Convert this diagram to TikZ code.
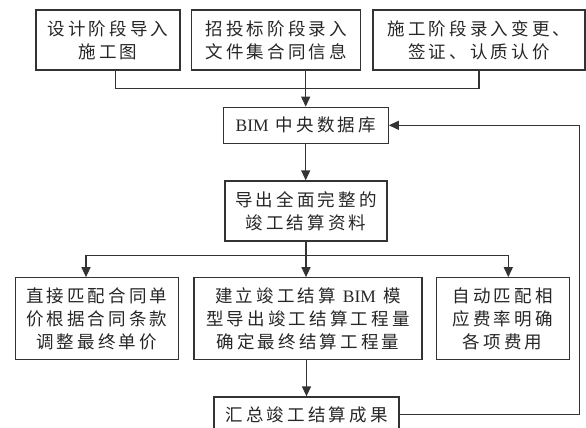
\documentclass[tikz,border=0pt]{standalone}
\usepackage{fontspec}
\setmainfont{Liberation Serif}
\newfontfamily\cjk[LetterSpace=18]{Noto Sans CJK SC}
\usetikzlibrary{arrows.meta,calc}
\begin{document}
\begin{tikzpicture}[x=1pt,y=-1pt,
  box/.style={draw=black!80,line width=1.3pt,inner sep=0pt,align=center,text=black!85,
    font=\cjk\fontsize{17.5}{23}\selectfont},
  conn/.style={draw=black!80,line width=1.3pt},
  arr/.style={conn,-{Triangle[length=10pt,width=9pt]}}]
\useasboundingbox (0,0) rectangle (586,428);
% top row
\node[box,minimum width=144pt,minimum height=60pt] (b1) at (108,40) {设计阶段导入\\施工图};
\node[box,minimum width=169pt,minimum height=60pt] (b2) at (276.3,40) {招投标阶段录入\\文件集合同信息};
\node[box,minimum width=212pt,minimum height=60pt] (b3) at (479,40) {施工阶段录入变更、\\签证、认质认价};
% centre column
\node[box,minimum width=165pt,minimum height=36pt] (bim) at (305.7,125.3) {{\rmfamily BIM} 中央数据库};
\node[box,minimum width=162pt,minimum height=60pt] (exp) at (306,211) {导出全面完整的\\竣工结算资料};
% third row
\node[box,minimum width=163pt,minimum height=82pt] (lb) at (96.7,318.8) {直接匹配合同单\\价根据合同条款\\调整最终单价};
\node[box,minimum width=228pt,minimum height=82pt] (mb) at (307.9,318.8) {建立竣工结算 {\rmfamily BIM} 模\\型导出竣工结算工程量\\确定最终结算工程量};
\node[box,minimum width=133pt,minimum height=82pt] (rb) at (502.7,318.8) {自动匹配相\\应费率明确\\各项费用};
% summary
\node[box,minimum width=185pt,minimum height=35pt] (sum) at (306.5,414.5) {汇总竣工结算成果};
% connectors
\coordinate (j) at (306,88.7);
\coordinate (fb) at (579.3,0);
\draw[conn] ([xshift=7.7pt]b1.south) |- (j) -| (b3.south);
\draw[arr] (bim.north |- b2.south) -- (bim.north);
\draw[arr] (bim.south) -- (bim.south |- exp.north);
\draw[arr] (exp.south) -- ++(0,14) -| ([xshift=-10.7pt]lb.north);
\draw[arr] (exp.south) -- ++(0,14) -| ([xshift=5.6pt]rb.north);
\draw[arr] (exp.south) -- (exp.south |- mb.north);
\draw[arr] (sum.north |- mb.south) -- (sum.north);
\draw[arr] (sum.east) -| (fb |- bim.east) -- (bim.east);
\end{tikzpicture}
\end{document}
